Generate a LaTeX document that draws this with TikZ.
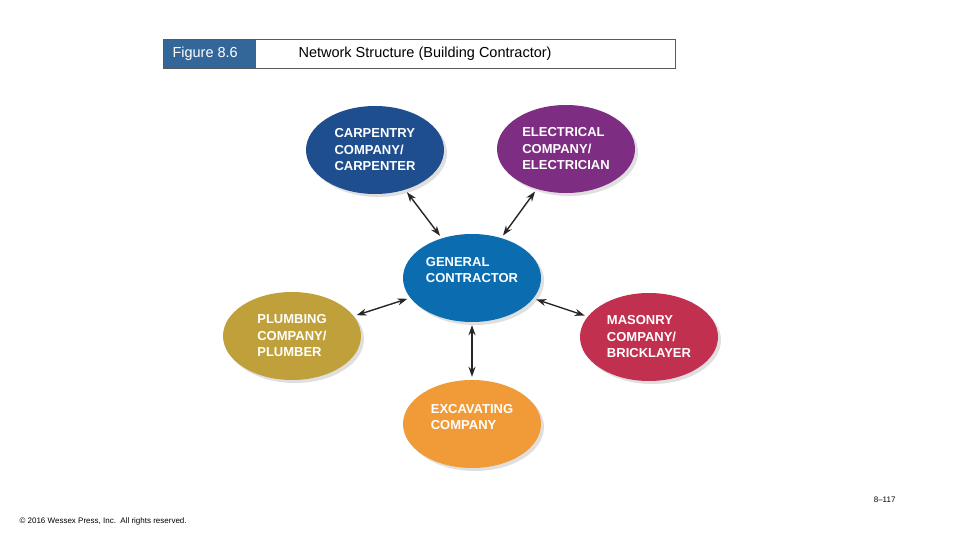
\documentclass[tikz,border=0pt]{standalone}
\usepackage{fontspec}
\setmainfont{Liberation Sans}
\usetikzlibrary{shapes.geometric,arrows.meta,shadows}
\definecolor{cblue}{HTML}{1F4E8F}
\definecolor{cpurple}{HTML}{7E2E82}
\definecolor{cgen}{HTML}{0B6DB0}
\definecolor{cgold}{HTML}{BFA03A}
\definecolor{cred}{HTML}{C23050}
\definecolor{corange}{HTML}{F09A38}
\definecolor{hdr}{HTML}{336699}
\tikzset{
  bub/.style={ellipse,minimum width=138pt,minimum height=88pt,text=white,
    font=\bfseries\fontsize{13}{16.5}\selectfont,align=left,inner sep=0pt,
    drop shadow={shadow xshift=3pt,shadow yshift=-3pt,opacity=0.25}},
  link/.style={{Stealth[length=10pt,width=7pt]}-{Stealth[length=10pt,width=7pt]},line width=1.4pt,black!85,shorten <=3pt,shorten >=3pt}
}
\begin{document}
\begin{tikzpicture}[x=1pt,y=-1pt]
\useasboundingbox[fill=white] (0,0) rectangle (960,540);
\fill[hdr] (163,39) rectangle (256,68);
\draw[gray!70!black,line width=0.8pt] (163,39) rectangle (675,68);
\node[anchor=west,text=white,font=\fontsize{14.5}{16}\selectfont] (fig) at (169,54) {Figure 8.6};
\node[anchor=west,font=\fontsize{14.5}{16}\selectfont] (title) at (295,54) {Network Structure (Building Contractor)};
\node[bub,fill=cblue] (car) at (375,150) {CARPENTRY\\COMPANY/\\CARPENTER};
\node[bub,fill=cpurple] (ele) at (566,149) {ELECTRICAL\\COMPANY/\\ELECTRICIAN};
\node[bub,fill=cgen] (gen) at (472,278) {GENERAL\\CONTRACTOR\\[0pt]};
\node[bub,fill=cgold] (plu) at (292,336) {PLUMBING\\COMPANY/\\PLUMBER};
\node[bub,fill=cred] (mas) at (649,337) {MASONRY\\COMPANY/\\BRICKLAYER};
\node[bub,fill=corange] (exc) at (472,424) {EXCAVATING\\COMPANY\\[-2pt]};
\draw[link] (car) -- (gen);
\draw[link] (ele) -- (gen);
\draw[link] (plu) -- (gen);
\draw[link] (mas) -- (gen);
\draw[link] (exc) -- (gen);
\node[anchor=east,font=\fontsize{8}{9}\selectfont] (pg) at (899,500) {8–117};
\node[anchor=west,font=\fontsize{8}{9}\selectfont] (cp) at (16,521) {© 2016 Wessex Press, Inc.\ \ All rights reserved.};
\end{tikzpicture}
\end{document}
